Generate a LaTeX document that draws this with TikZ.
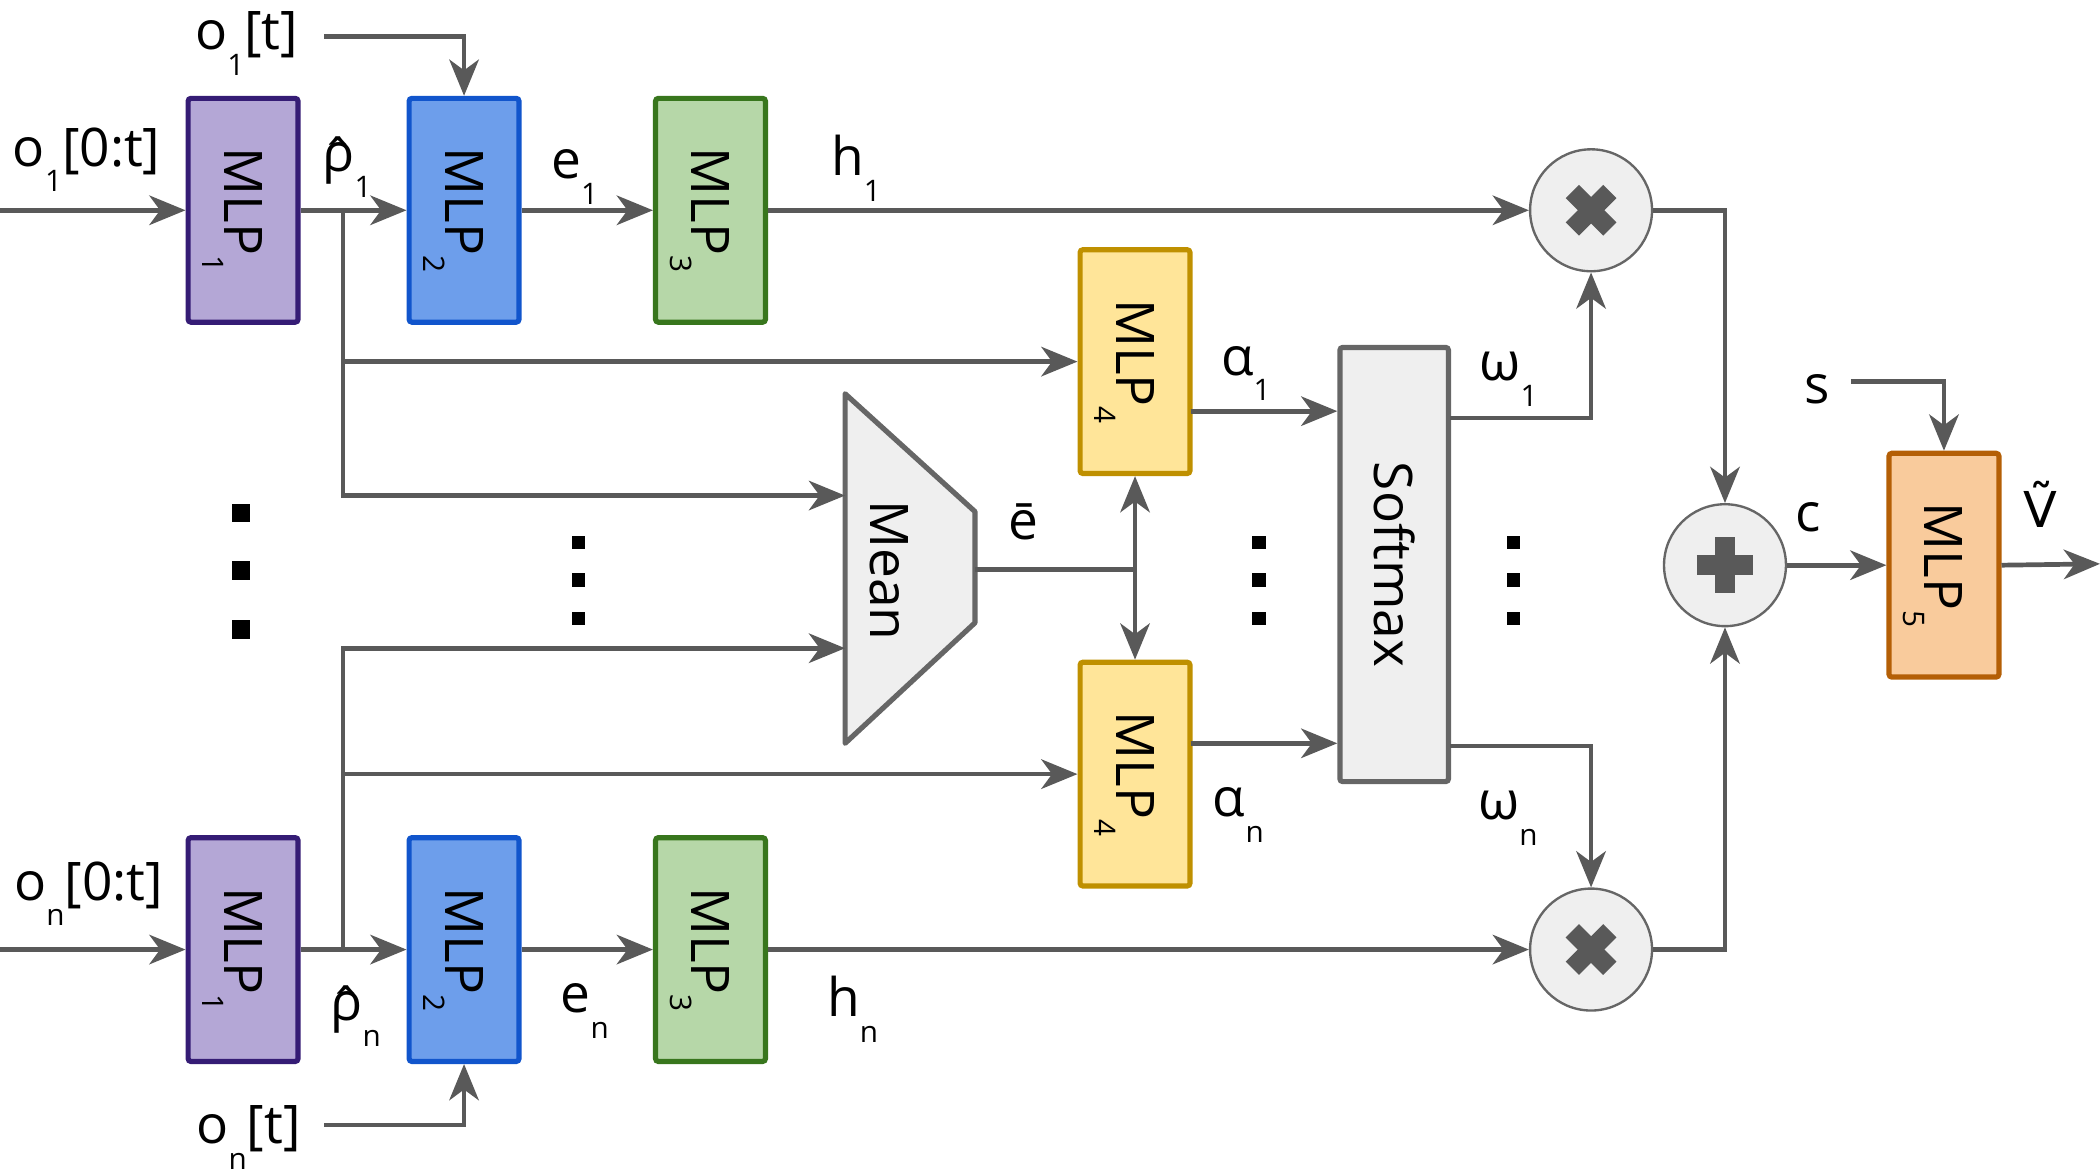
\documentclass[tikz,border=0pt]{standalone}
\usepackage{fontspec}
\setmainfont{Open Sans}
\newfontfamily\dejavu{DejaVu Sans}
\usetikzlibrary{arrows.meta}
\definecolor{gline}{HTML}{595959}
\definecolor{gfill}{HTML}{EFEFEF}
\definecolor{gbord}{HTML}{666666}
\definecolor{pfill}{HTML}{B4A7D6}\definecolor{pbord}{HTML}{351C75}
\definecolor{bfill}{HTML}{6D9EEB}\definecolor{bbord}{HTML}{1155CC}
\definecolor{gnfill}{HTML}{B6D7A8}\definecolor{gnbord}{HTML}{38761D}
\definecolor{yfill}{HTML}{FFE599}\definecolor{ybord}{HTML}{BF9000}
\definecolor{ofill}{HTML}{F9CB9C}\definecolor{obord}{HTML}{B45F06}
\newcommand{\sbs}[1]{\raisebox{-5.5pt}{\fontsize{6.3}{7}\selectfont #1}}
\newcommand{\bsb}[1]{\raisebox{-4.5pt}[0pt][0pt]{\fontsize{6.3}{7}\selectfont #1}}
\newcommand{\hatrho}{\leavevmode\rlap{\raisebox{-0.12em}{ˆ}}ρ}
\newcommand{\boxtxt}[1]{\rotatebox{-90}{MLP\bsb{#1}}}
\begin{document}
\begin{tikzpicture}[x=0.01cm,y=-0.01cm,
  font=\fontsize{11.3}{13.5}\selectfont,
  mlp/.style={draw, line width=1.1pt, rounded corners=0.6pt, minimum width=0.82cm, minimum height=1.67cm, inner sep=0pt},
  m1st/.style={mlp, fill=pfill, draw=pbord},
  m2st/.style={mlp, fill=bfill, draw=bbord},
  m3st/.style={mlp, fill=gnfill, draw=gnbord},
  m4st/.style={mlp, fill=yfill, draw=ybord},
  m5st/.style={mlp, fill=ofill, draw=obord},
  smst/.style={draw=gbord, fill=gfill, line width=1.1pt, rounded corners=0.6pt, minimum width=0.81cm, minimum height=3.24cm, inner sep=0pt},
  opst/.style={circle, draw=gbord, fill=gfill, line width=0.5pt, minimum size=0.91cm, inner sep=0pt},
  meanst/.style={draw=gbord, fill=gfill, line width=1.1pt, line join=round},
  arr/.style={draw=gline, line width=1pt, -{Stealth[length=0.27cm,width=0.22cm,inset=0.08cm]}},
  ln/.style={draw=gline, line width=1pt},
  symb/.style={draw=gline, line width=0.14cm},
  lab/.style={anchor=base west, inner sep=0pt},
  dotbig/.style={fill=black},
]
\useasboundingbox (0,0) rectangle (1568,875);

% ---- nodes, top row
\node[m1st] (m1) at (181.5,157) {\boxtxt{1}};
\node[m2st] (m2) at (346.5,157) {\boxtxt{2}};
\node[m3st] (m3) at (530.5,157) {\boxtxt{3}};
% ---- bottom row
\node[m1st] (n1) at (181.5,709) {\boxtxt{1}};
\node[m2st] (n2) at (346.5,709) {\boxtxt{2}};
\node[m3st] (n3) at (530.5,709) {\boxtxt{3}};
% ---- MLP4
\node[m4st] (m4a) at (847.5,270) {\boxtxt{4}};
\node[m4st] (m4b) at (847.5,578) {\boxtxt{4}};
% ---- softmax
\node[smst] (sm) at (1041,421.5) {\rotatebox{-90}{Softmax}};
% ---- operators
\node[opst] (x1) at (1188,157) {};
\node[opst] (xn) at (1188,709) {};
\node[opst] (pl) at (1288,422) {};
\node[m5st] (m5) at (1451.5,422) {\boxtxt{5}};
% ---- mean trapezoid
\coordinate (t1) at (631,294);
\coordinate (t2) at (728,382);
\coordinate (t3) at (728,465);
\coordinate (t4) at (631,555);
\draw[meanst] (t1) -- (t2) -- (t3) -- (t4) -- cycle;
\node (mean) at (664,426) {\rotatebox{-90}{Mean}};

% ---- symbols in operators
\draw[symb] (x1.center) ++(-14,-14) -- ++(28,28);
\draw[symb] (x1.center) ++(-14,14) -- ++(28,-28);
\draw[symb] (xn.center) ++(-14,-14) -- ++(28,28);
\draw[symb] (xn.center) ++(-14,14) -- ++(28,-28);
\draw[draw=gline, line width=0.15cm] (pl.center) ++(-21,0) -- ++(42,0);
\draw[draw=gline, line width=0.15cm] (pl.center) ++(0,-21) -- ++(0,42);

% ---- coordinates
\coordinate (in1) at (0,157);
\coordinate (inn) at (0,709);
\coordinate (ot1) at (242,27);
\coordinate (otn) at (242,840);
\coordinate (b1) at (256,157);
\coordinate (bn) at (256,709);
\coordinate (mi1) at (631,370);
\coordinate (mi2) at (631,484);
\coordinate (mo) at (728,425);
\coordinate (jn) at (847.5,425);
\coordinate (a1s) at (889,307);
\coordinate (ans) at (889,555);
\coordinate (w1) at (1083,312);
\coordinate (wn) at (1083,557);
\coordinate (sin) at (1382,285);
\coordinate (vout) at (1568,421);

% ---- connectors top
\draw[arr] (in1) -- (m1.west);
\draw[arr] (m1.east) -- (m2.west);
\draw[arr] (ot1) -| (m2.north);
\draw[arr] (m2.east) -- (m3.west);
\draw[arr] (m3.east) -- (x1.west);
\draw[arr] (b1) |- (m4a.west);
\draw[arr] (b1) |- (mi1);
% ---- connectors bottom
\draw[arr] (inn) -- (n1.west);
\draw[arr] (n1.east) -- (n2.west);
\draw[arr] (otn) -| (n2.south);
\draw[arr] (n2.east) -- (n3.west);
\draw[arr] (n3.east) -- (xn.west);
\draw[arr] (bn) |- (m4b.west);
\draw[arr] (bn) |- (mi2);
% ---- mean
\draw[ln] (mo) -- (jn);
\draw[arr] (jn) -- (m4a.south);
\draw[arr] (jn) -- (m4b.north);
% ---- attention
\draw[arr] (a1s) -- (sm.west |- a1s);
\draw[arr] (ans) -- (sm.west |- ans);
\draw[arr] (w1) -| (x1.south);
\draw[arr] (wn) -| (xn.north);
\draw[arr] (x1.east) -| (pl.north);
\draw[arr] (xn.east) -| (pl.south);
\draw[arr] (pl.east) -- (m5.west);
\draw[arr] (sin) -| (m5.north);
\draw[arr] (m5.east) -- (vout);

% ---- labels
\node[lab] (lo1t) at (145,37) {o\sbs{1}[t]};
\node[lab] (lo1) at (9,124) {o\sbs{1}[0:t]};
\node[lab] (lr1) at (240,128) {\hatrho\sbs{1}};
\node[lab] (le1) at (411,133) {e\sbs{1}};
\node[lab] (lh1) at (620,131) {h\sbs{1}};
\node[lab] (la1) at (911,280) {α\sbs{1}};
\node[lab] (lw1) at (1104,284) {ω\sbs{1}};
\node[lab] (lon) at (10,672) {o\sbs{n}[0:t]};
\node[lab] (lont) at (146,854) {o\sbs{n}[t]};
\node[lab] (lrn) at (246,762) {\hatrho\sbs{n}};
\node[lab] (len) at (418,756) {e\sbs{n}};
\node[lab] (lhn) at (617,759) {h\sbs{n}};
\node[lab] (lan) at (905,610) {α\sbs{n}};
\node[lab] (lwn) at (1103,612) {ω\sbs{n}};
\node[lab] (lebar) at (752,403) {ē};
\node[lab] (ls) at (1347,301) {s};
\node[lab] (lc) at (1340,397) {c};
\node[lab] (lv) at (1510,394) {{\dejavu\fontsize{10.5}{12}\selectfont Ṽ}};

% ---- dots
\foreach \yy in {383,426,470} \fill[dotbig] (180,\yy) +(-7,-7) rectangle +(7,7);
\foreach \xx in {432,940,1130} \foreach \yy in {405,433,462} \fill[dotbig] (\xx,\yy) +(-5,-5) rectangle +(5,5);
\end{tikzpicture}
\end{document}
